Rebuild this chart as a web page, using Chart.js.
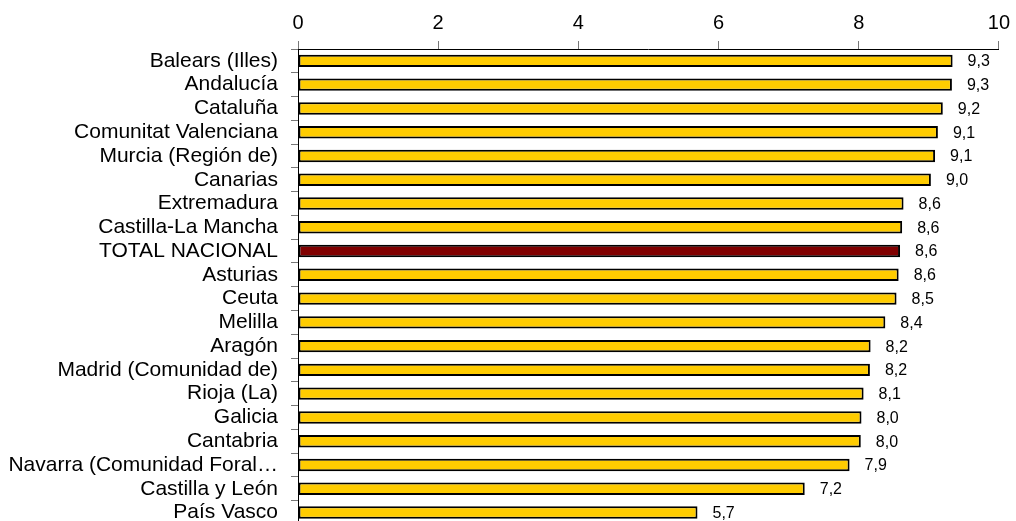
<!DOCTYPE html>
<html>
<head>
<meta charset="utf-8">
<script src="https://cdn.jsdelivr.net/npm/chart.js@4"></script>
<style>
    body { margin: 0; background: #fff; overflow: hidden; }
    #wrap { width: 1016px; height: 550px; }
</style>
</head>
<body>
<div id="wrap"><canvas id="barChart"></canvas></div>
<script>
// regions, top to bottom
const regions = [
    'Balears (Illes)', 'Andalucía', 'Cataluña', 'Comunitat Valenciana', 'Murcia (Región de)',
    'Canarias', 'Extremadura', 'Castilla-La Mancha', 'TOTAL NACIONAL', 'Asturias',
    'Ceuta', 'Melilla', 'Aragón', 'Madrid (Comunidad de)', 'Rioja (La)',
    'Galicia', 'Cantabria', 'Navarra (Comunidad Foral…', 'Castilla y León', 'País Vasco'
];
// values
const values = [
    9.34, 9.33, 9.2, 9.13, 9.09,
    9.03, 8.64, 8.62, 8.59, 8.57,
    8.54, 8.38, 8.17, 8.16, 8.07,
    8.04, 8.03, 7.87, 7.23, 5.70
];
const xTicks = [0, 2, 4, 6, 8, 10];

const FONT = 'Arial, "Liberation Sans", sans-serif';
const YELLOW = '#FFCC00';
const TOTAL_COLOR = '#800000';

// draw the value next to the end of each bar
const valueLabels = {
    id: 'valueLabels',
    afterDatasetsDraw(chart) {
        const ctx = chart.ctx;
        const meta = chart.getDatasetMeta(0);
        ctx.save();
        ctx.font = '16px ' + FONT;
        ctx.fillStyle = '#000';
        ctx.textAlign = 'left';
        ctx.textBaseline = 'middle';
        meta.data.forEach((bar, i) => {
            const txt = values[i].toFixed(1).replace('.', ',');
            ctx.fillText(txt, bar.x + 15, bar.y + 1);
        });
        ctx.restore();
    }
};

const ctx = document.getElementById('barChart').getContext('2d');

new Chart(ctx, {
    type: 'bar',
    data: {
        labels: regions,
        datasets: [{
            data: values,
            backgroundColor: regions.map(r => r === 'TOTAL NACIONAL' ? TOTAL_COLOR : YELLOW),
            borderColor: '#000',
            borderWidth: 2,
            borderSkipped: false,
            barPercentage: 0.9,
            categoryPercentage: 0.58
        }]
    },
    options: {
        indexAxis: 'y',
        responsive: true,
        maintainAspectRatio: false,
        animation: false,
        layout: { padding: { top: 0, right: 12, bottom: 0, left: 0 } },
        plugins: {
            legend: { display: false },
            tooltip: { enabled: false }
        },
        scales: {
            x: {
                position: 'top',
                min: 0,
                max: 10,
                afterBuildTicks: scale => {
                    scale.ticks = xTicks.map(v => ({ value: v }));
                },
                afterFit: scale => { scale.height = 49; },
                ticks: {
                    color: '#000',
                    font: { family: FONT, size: 20 },
                    padding: 6
                },
                grid: {
                    drawOnChartArea: false,
                    tickLength: 8,
                    color: '#777'
                },
                border: { display: true, color: '#000', width: 1 }
            },
            y: {
                afterFit: scale => { scale.width = 298; },
                ticks: {
                    color: '#000',
                    font: { family: FONT, size: 21 },
                    padding: 13,
                    autoSkip: false
                },
                grid: {
                    offset: true,
                    drawOnChartArea: false,
                    tickLength: 7,
                    color: '#777'
                },
                border: { display: true, color: '#000', width: 1 }
            }
        }
    },
    plugins: [valueLabels]
});
</script>
</body>
</html>
